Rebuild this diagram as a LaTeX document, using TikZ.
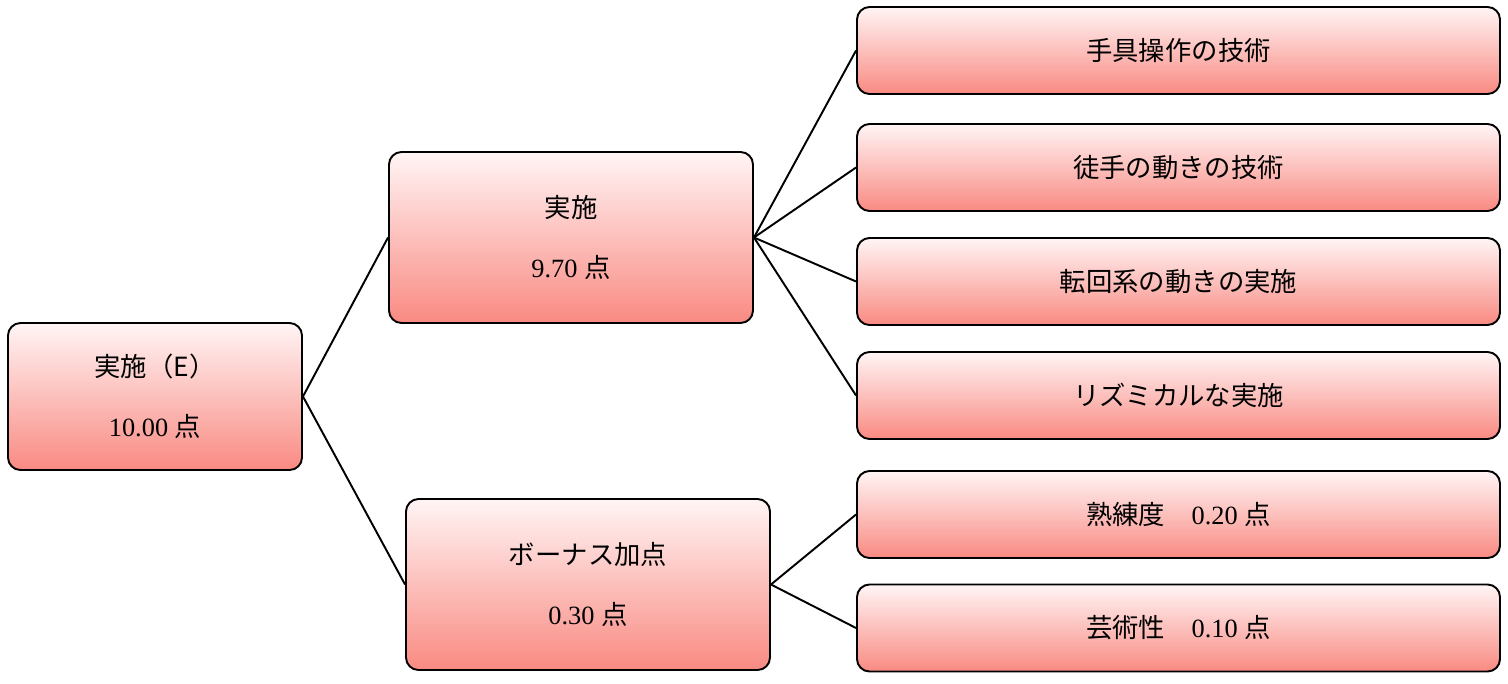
\documentclass[tikz,border=0pt]{standalone}
\usepackage{fontspec}
\setmainfont{Liberation Serif}
\newfontfamily\cjk{Noto Sans CJK JP}
\begin{document}
\begin{tikzpicture}[x=0.02cm,y=-0.02cm,
  box/.style={draw=black,line width=1.1pt,rounded corners=0.25cm,top color=red!4,bottom color={rgb,255:red,249;green,138;blue,130},
    align=center,font=\fontsize{15}{20}\selectfont,inner sep=0pt},
  ln/.style={line width=1.1pt}]
\useasboundingbox (0,0) rectangle (1508,683);
\node[box,minimum width=294*0.02cm,minimum height=147*0.02cm] (root) at (155,396.5) {{\cjk 実施（E）}\\[14pt]10.00 {\cjk 点}};
\node[box,minimum width=364*0.02cm,minimum height=171*0.02cm] (ex) at (571,237.5) {{\cjk 実施}\\[14pt]9.70 {\cjk 点}};
\node[box,minimum width=364*0.02cm,minimum height=171*0.02cm] (bo) at (588,584.5) {{\cjk ボーナス加点}\\[14pt]0.30 {\cjk 点}};
\foreach \n/\y/\t in {a/50.5/{\cjk 手具操作の技術},b/167.5/{\cjk 徒手の動きの技術},c/281.5/{\cjk 転回系の動きの実施},d/395.5/{\cjk リズミカルな実施},e/514.5/{{\cjk 熟練度}\quad 0.20 {\cjk 点}},f/628/{{\cjk 芸術性}\quad 0.10 {\cjk 点}}}
  \node[box,minimum width=643*0.02cm,minimum height=87*0.02cm] (\n) at (1178.5,\y) {\t};
\draw[ln] (root.east) -- (ex.west);
\draw[ln] (root.east) -- (bo.west);
\foreach \n in {a,b,c,d} \draw[ln] (ex.east) -- (\n.west);
\foreach \n in {e,f} \draw[ln] (bo.east) -- (\n.west);
\end{tikzpicture}
\end{document}
